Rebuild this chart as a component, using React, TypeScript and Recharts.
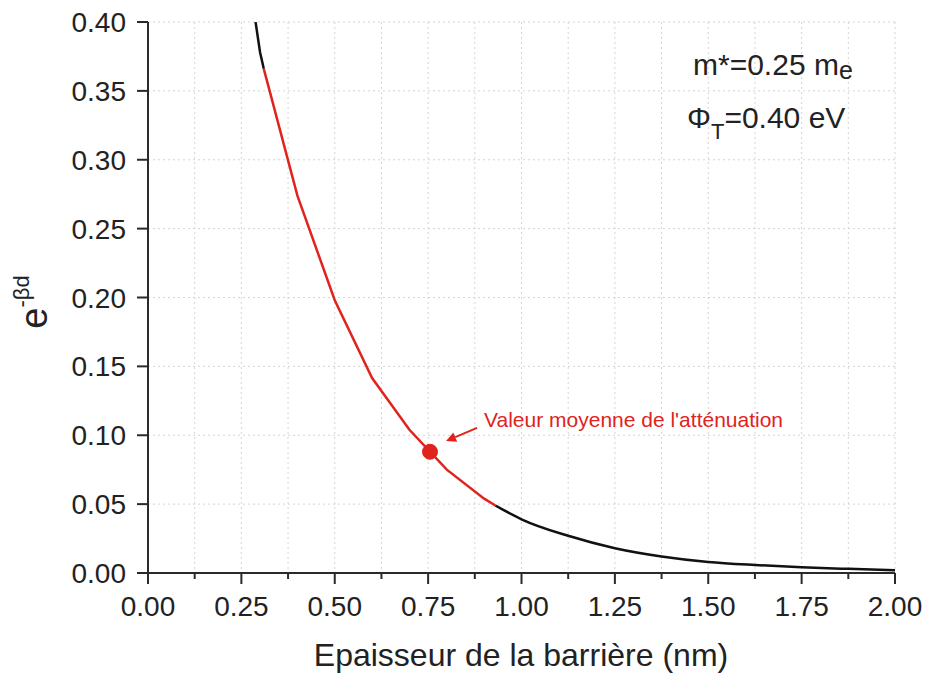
import React from 'react';
import { ComposedChart, Line, XAxis, YAxis, CartesianGrid, ReferenceDot, ReferenceLine } from 'recharts';

// Attenuation curve (black), outside the highlighted range
const upperX = [0.288, 0.30, 0.31];
const upperY = [0.400, 0.378, 0.366];
const lowerX = [0.93, 0.95, 1.00, 1.125, 1.25, 1.375, 1.50, 1.625, 1.75, 1.875, 2.00];
const lowerY = [0.049, 0.046, 0.039, 0.027, 0.018, 0.012, 0.008, 0.0058, 0.0042, 0.0030, 0.0020];

// Highlighted range (red)
const redX = [0.31, 0.40, 0.50, 0.60, 0.70, 0.80, 0.90, 0.93];
const redY = [0.366, 0.274, 0.198, 0.1415, 0.104, 0.075, 0.054, 0.049];

// Mean value marker and arrow
const meanX = 0.755;
const meanY = 0.088;
const arrowTail = { x: 0.881, y: 0.1053 };
const arrowHead = { x: 0.798, y: 0.0958 };
const meanLabel = "Valeur moyenne de l'atténuation";

const xTicks = [0, 0.125, 0.25, 0.375, 0.5, 0.625, 0.75, 0.875, 1, 1.125, 1.25, 1.375, 1.5, 1.625, 1.75, 1.875, 2];
const xMajor = [0, 0.25, 0.5, 0.75, 1, 1.25, 1.5, 1.75, 2];
const yTicks = [0, 0.05, 0.1, 0.15, 0.2, 0.25, 0.3, 0.35, 0.4];

const xTitle = 'Epaisseur de la barrière (nm)';

const upperData = upperX.map((x, i) => ({ x, y: upperY[i] }));
const lowerData = lowerX.map((x, i) => ({ x, y: lowerY[i] }));
const redData = redX.map((x, i) => ({ x, y: redY[i] }));

const FONT = '"Liberation Sans", Arial, Helvetica, sans-serif';
const AXIS = '#2a2a2a';
const RED = '#e0231c';

const isMajor = (v: number) => xMajor.some((m) => Math.abs(m - v) < 1e-9);

const BottomTick = (props: any) => {
  const { x, y, payload } = props;
  const major = isMajor(payload.value);
  return (
    <g>
      <line x1={x} y1={y} x2={x} y2={y + (major ? 11 : 6)} stroke={AXIS} strokeWidth={2} />
      {major && (
        <text x={x} y={y + 43} textAnchor="middle" fontSize={28} fontFamily={FONT} fill="#222">
          {payload.value.toFixed(2)}
        </text>
      )}
    </g>
  );
};

const TopTick = (props: any) => {
  const { x, y, payload } = props;
  const major = isMajor(payload.value);
  return <line x1={x} y1={y} x2={x} y2={y + (major ? 11 : 8)} stroke={AXIS} strokeWidth={2} />;
};

const LeftTick = (props: any) => {
  const { x, y, payload } = props;
  return (
    <g>
      <line x1={x} y1={y} x2={x - 11} y2={y} stroke={AXIS} strokeWidth={2} />
      <text x={x - 22} y={y + 10} textAnchor="end" fontSize={28} fontFamily={FONT} fill="#222">
        {payload.value.toFixed(2)}
      </text>
    </g>
  );
};

const RightTick = (props: any) => {
  const { x, y } = props;
  return <line x1={x} y1={y} x2={x - 12} y2={y} stroke={AXIS} strokeWidth={2} />;
};

const ArrowShape = (props: any) => {
  const { x1, y1, x2, y2 } = props;
  const dx = x2 - x1;
  const dy = y2 - y1;
  const len = Math.sqrt(dx * dx + dy * dy) || 1;
  const ux = dx / len;
  const uy = dy / len;
  const hl = 10;
  const hw = 5;
  const bx = x2 - ux * hl;
  const by = y2 - uy * hl;
  const px = -uy;
  const py = ux;
  return (
    <g>
      <line x1={x1} y1={y1} x2={bx} y2={by} stroke={RED} strokeWidth={2} />
      <polygon
        points={`${x2},${y2} ${bx + px * hw},${by + py * hw} ${bx - px * hw},${by - py * hw}`}
        fill={RED}
      />
      <text x={x1 + 7} y={y1 - 1} fontSize={21} fontFamily={FONT} fill={RED}>
        {meanLabel}
      </text>
    </g>
  );
};

const lineCommon = {
  dataKey: 'y',
  dot: false,
  activeDot: false,
  isAnimationActive: false,
};

export default function App() {
  return (
    <div style={{ position: 'absolute', left: 0, top: 0, width: 925, height: 675, background: '#fff' }}>
      <ComposedChart width={925} height={675} margin={{ top: 22, right: 30, left: 0, bottom: 0 }}>
        <CartesianGrid stroke="#d4d4d4" strokeDasharray="2 3" strokeWidth={1} />
        <XAxis
          dataKey="x"
          type="number"
          domain={[0, 2]}
          ticks={xTicks}
          interval={0}
          height={102}
          tickSize={0}
          tickMargin={0}
          tickLine={false}
          axisLine={{ stroke: AXIS, strokeWidth: 2 }}
          tick={<BottomTick />}
          allowDataOverflow
        />
        <XAxis
          xAxisId="top"
          orientation="top"
          dataKey="x"
          type="number"
          domain={[0, 2]}
          ticks={xTicks}
          interval={0}
          height={0}
          tickSize={0}
          tickMargin={0}
          tickLine={false}
          axisLine={{ stroke: AXIS, strokeWidth: 2 }}
          tick={<TopTick />}
          allowDataOverflow
        />
        <YAxis
          type="number"
          domain={[0, 0.4]}
          ticks={yTicks}
          interval={0}
          width={148}
          tickSize={0}
          tickMargin={0}
          tickLine={false}
          axisLine={{ stroke: AXIS, strokeWidth: 2 }}
          tick={<LeftTick />}
          allowDataOverflow
        />
        <YAxis
          yAxisId="right"
          orientation="right"
          type="number"
          domain={[0, 0.4]}
          ticks={yTicks}
          interval={0}
          width={0}
          tickSize={0}
          tickMargin={0}
          tickLine={false}
          axisLine={{ stroke: AXIS, strokeWidth: 2 }}
          tick={<RightTick />}
          allowDataOverflow
        />
        <Line {...lineCommon} data={upperData} type="linear" stroke="#111" strokeWidth={2.5} />
        <Line {...lineCommon} data={lowerData} type="monotone" stroke="#111" strokeWidth={2.5} />
        <Line {...lineCommon} data={redData} type="linear" stroke={RED} strokeWidth={2.5} />
        <ReferenceDot x={meanX} y={meanY} r={7.5} fill={RED} stroke={RED} strokeWidth={1} />
        <ReferenceLine segment={[arrowTail, arrowHead]} stroke={RED} shape={<ArrowShape />} />
      </ComposedChart>
      <svg
        width={925}
        height={675}
        style={{ position: 'absolute', left: 0, top: 0, pointerEvents: 'none' }}
      >
        <text x={693} y={75} fontSize={30} fontFamily={FONT} fill="#222">
          m*=0.25 m<tspan fontSize={25} dy={4}>e</tspan>
        </text>
        <text x={687} y={128} fontSize={30} fontFamily={FONT} fill="#222">
          Φ<tspan fontSize={22} dy={11}>T</tspan>
          <tspan dy={-11}>=0.40 eV</tspan>
        </text>
        <text
          transform="translate(47,302) rotate(-90)"
          textAnchor="middle"
          fontFamily={FONT}
          fill="#222"
        >
          <tspan fontSize={38}>e</tspan>
          <tspan fontSize={22} dy={-18}>-βd</tspan>
        </text>
        <text x={521} y={666} textAnchor="middle" fontSize={32} fontFamily={FONT} fill="#222">
          {xTitle}
        </text>
      </svg>
    </div>
  );
}
